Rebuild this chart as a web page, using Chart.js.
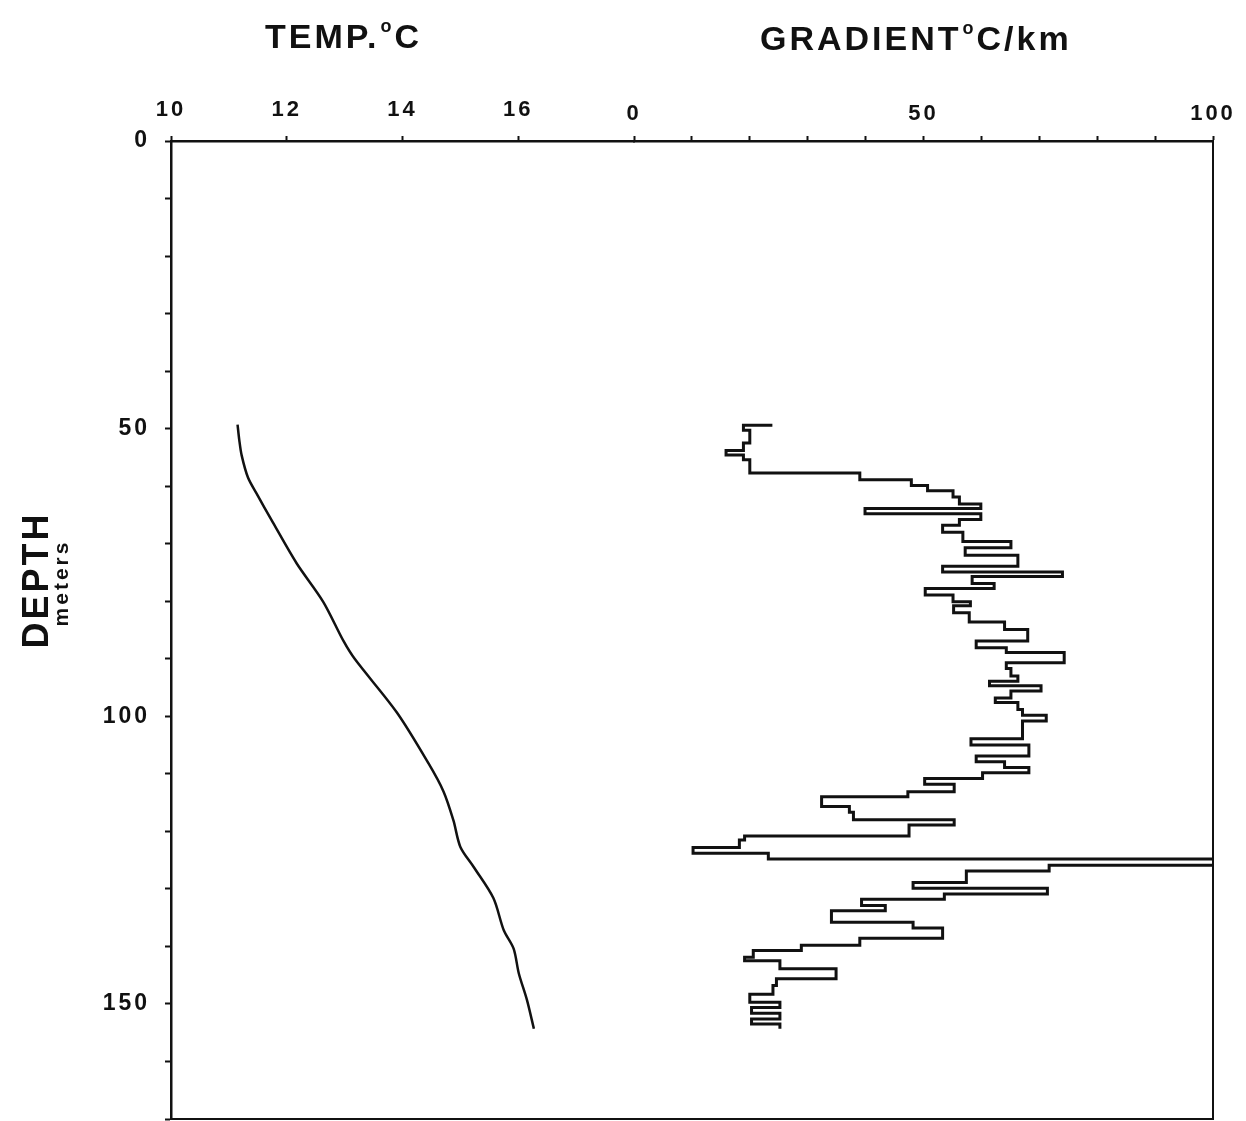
<!DOCTYPE html>
<html>
<head>
<meta charset="utf-8">
<title>Temperature and gradient log</title>
<script src="https://cdn.jsdelivr.net/npm/chart.js@4.4.1/dist/chart.umd.min.js"></script>
<style>
  html, body { margin: 0; padding: 0; background: #fff; }
  #wrap { position: relative; width: 1246px; height: 1121px; }
</style>
</head>
<body>
<div id="wrap"><canvas id="logChart"></canvas></div>
<script>
// Temperature log: depth (m) and temperature (°C)
const tempDepth = [49.3, 52.0, 54.6, 58.5, 61.3, 66.3, 73.4, 80.1, 86.9, 90.1, 99.3, 108.2, 113.1, 118.1, 122.7, 126.2, 131.6, 137.2, 140.4, 144.7, 149.3, 154.3];
const tempValue = [11.15, 11.18, 11.22, 11.33, 11.48, 11.76, 12.17, 12.63, 12.98, 13.18, 13.9, 14.45, 14.71, 14.88, 15.0, 15.23, 15.57, 15.75, 15.92, 16.01, 16.15, 16.27];

// Gradient log: step boundaries (m), one more than the step values (°C/km)
const gradDepth = [49.4, 49.4, 50.3, 52.5, 53.8, 54.6, 55.4, 57.7, 58.9, 59.9, 60.8, 61.9, 63.1, 63.9, 64.8, 65.8, 66.8, 68.0, 69.6, 70.7,
  72.0, 73.9, 74.9, 75.7, 76.9, 77.8, 78.9, 80.1, 80.8, 82.0, 83.6, 84.9, 86.9, 88.1, 88.9, 90.7, 91.7, 93.0, 93.9, 94.7,
  95.6, 96.8, 97.6, 98.8, 99.8, 100.8, 103.9, 105.0, 106.9, 107.9, 108.9, 109.8, 110.8, 111.8, 113.1, 114.0, 115.7, 116.7, 118.0, 118.9,
  120.8, 121.5, 122.8, 123.8, 124.8, 125.9, 126.9, 128.9, 129.9, 130.9, 131.8, 132.9, 133.8, 135.8, 136.8, 138.6, 139.8, 140.7, 141.9, 142.5,
  143.9, 145.6, 146.8, 148.3, 149.7, 150.6, 151.6, 152.6, 153.5, 154.3];
const gradValue = [23.9, 18.9, 20.0, 18.9, 15.9, 18.9, 20.0, 39.0, 47.9, 50.7, 55.1, 56.2, 59.9, 39.9, 59.9, 56.2, 53.3, 56.8, 65.1, 57.2,
  66.3, 53.3, 74.0, 58.4, 62.2, 50.3, 55.1, 58.1, 55.2, 57.9, 64.0, 68.0, 59.1, 64.3, 74.3, 64.3, 65.1, 66.3, 61.4, 70.3,
  65.1, 62.4, 66.3, 67.1, 71.2, 67.1, 58.2, 68.2, 59.1, 64.0, 68.2, 60.2, 50.2, 55.3, 47.3, 32.4, 37.2, 37.9, 55.3, 47.5,
  19.1, 18.2, 10.2, 23.2, 125, 71.7, 57.4, 48.2, 71.4, 53.6, 39.3, 43.4, 34.1, 48.2, 53.3, 39.0, 28.9, 20.6, 19.1, 25.2,
  34.9, 24.6, 24.0, 20.0, 25.2, 20.3, 25.2, 20.3, 25.2];

// Axis ticks
const tempTicks = [10, 12, 14, 16];
const gradTicks = [0, 10, 20, 30, 40, 50, 60, 70, 80, 90, 100];
const gradLabels = [0, 50, 100];
const depthTicks = [0, 10, 20, 30, 40, 50, 60, 70, 80, 90, 100, 110, 120, 130, 140, 150, 160, 170];
const depthLabels = [0, 50, 100, 150];

const ink = '#111111';
const fontFamily = "'Liberation Sans', Arial, Helvetica, sans-serif";

const tempPoints = tempDepth.map((d, i) => ({ x: tempValue[i], y: d }));
// stepped 'after' draws each value down its interval, then across to the next one
const gradPoints = gradValue.map((g, i) => ({ x: g, y: gradDepth[i] }));
gradPoints.push({ x: gradValue[gradValue.length - 1], y: gradDepth[gradDepth.length - 1] });

function drawDegreeTitle(ctx, lead, tail, x, y) {
  ctx.font = 'bold 34px ' + fontFamily;
  ctx.fillText(lead, x, y);
  let cx = x + ctx.measureText(lead).width + 1;
  ctx.font = 'bold 18px ' + fontFamily;
  ctx.fillText('o', cx, y - 16);
  cx += ctx.measureText('o').width;
  ctx.font = 'bold 34px ' + fontFamily;
  ctx.fillText(tail, cx, y);
}

// the old plotter lettering is widely spaced
const spacingPlugin = {
  id: 'spacing',
  beforeUpdate(chart) { chart.ctx.letterSpacing = '3px'; },
  beforeDraw(chart) { chart.ctx.letterSpacing = '3px'; }
};

const titlePlugin = {
  id: 'logTitles',
  afterDraw(chart) {
    const ctx = chart.ctx;
    ctx.save();
    ctx.fillStyle = ink;
    ctx.textAlign = 'left';
    ctx.textBaseline = 'alphabetic';
    drawDegreeTitle(ctx, 'TEMP.', 'C', 265, 48);
    drawDegreeTitle(ctx, 'GRADIENT', 'C/km', 760, 50);

    ctx.textAlign = 'center';
    ctx.save();
    ctx.translate(48, 580);
    ctx.rotate(-Math.PI / 2);
    ctx.font = 'bold 36px ' + fontFamily;
    ctx.fillText('DEPTH', 0, 0);
    ctx.restore();
    ctx.save();
    ctx.translate(68, 583);
    ctx.rotate(-Math.PI / 2);
    ctx.font = 'bold 21px ' + fontFamily;
    ctx.fillText('meters', 0, 0);
    ctx.restore();
    ctx.restore();
  }
};

// right and bottom sides of the plot box
const framePlugin = {
  id: 'frame',
  afterDraw(chart) {
    const { ctx, chartArea: a } = chart;
    ctx.save();
    ctx.strokeStyle = ink;
    ctx.lineWidth = 2;
    ctx.beginPath();
    ctx.moveTo(a.right, a.top);
    ctx.lineTo(a.right, a.bottom);
    ctx.lineTo(a.left, a.bottom);
    ctx.stroke();
    ctx.restore();
  }
};

const tickFont = { family: fontFamily, size: 22, weight: 'bold' };

new Chart(document.getElementById('logChart'), {
  type: 'line',
  data: {
    datasets: [
      {
        label: 'Temperature',
        data: tempPoints,
        xAxisID: 'xTemp',
        yAxisID: 'y',
        borderColor: ink,
        borderWidth: 2.5,
        pointRadius: 0,
        tension: 0.3,
        fill: false
      },
      {
        label: 'Gradient',
        data: gradPoints,
        xAxisID: 'xGrad',
        yAxisID: 'y',
        borderColor: ink,
        borderWidth: 3,
        pointRadius: 0,
        stepped: 'after',
        fill: false
      }
    ]
  },
  options: {
    responsive: true,
    maintainAspectRatio: false,
    animation: false,
    layout: { padding: { left: 0, top: 0, right: 33, bottom: 2 } },
    plugins: {
      legend: { display: false },
      tooltip: { enabled: false }
    },
    scales: {
      // top boxes are laid out in reverse order, so the gradient axis comes first here
      xGrad: {
        type: 'linear',
        position: 'top',
        stack: 'topAxes',
        stackWeight: 579,
        min: 0,
        max: 100,
        afterBuildTicks: (scale) => { scale.ticks = gradTicks.map(v => ({ value: v })); },
        afterFit: (scale) => { scale.height = 141; },
        ticks: {
          color: ink, font: tickFont, padding: 9, autoSkip: false, maxRotation: 0,
          callback: (v) => gradLabels.includes(v) ? String(v) : ''
        },
        grid: { drawOnChartArea: false, drawTicks: true, tickLength: 5, tickColor: ink, tickWidth: 2 },
        border: { display: true, color: ink, width: 2.5 }
      },
      xTemp: {
        type: 'linear',
        position: 'top',
        stack: 'topAxes',
        stackWeight: 463,
        min: 10,
        max: 18,
        afterBuildTicks: (scale) => { scale.ticks = tempTicks.map(v => ({ value: v })); },
        afterFit: (scale) => { scale.height = 141; },
        ticks: { color: ink, font: tickFont, padding: 13, autoSkip: false, maxRotation: 0 },
        grid: { drawOnChartArea: false, drawTicks: true, tickLength: 5, tickColor: ink, tickWidth: 2 },
        border: { display: true, color: ink, width: 2.5 }
      },
      y: {
        type: 'linear',
        position: 'left',
        reverse: true,
        min: 0,
        max: 170,
        afterBuildTicks: (scale) => { scale.ticks = depthTicks.map(v => ({ value: v })); },
        afterFit: (scale) => {
          scale.width = 171;
          scale.paddingTop = 0;
          scale.paddingBottom = 0;
        },
        ticks: {
          color: ink, font: { family: fontFamily, size: 23, weight: 'bold' }, padding: 15, autoSkip: false,
          callback: (v) => depthLabels.includes(v) ? String(v) : ''
        },
        grid: { drawOnChartArea: false, drawTicks: true, tickLength: 6, tickColor: ink, tickWidth: 2 },
        border: { display: true, color: ink, width: 2.5 }
      }
    }
  },
  plugins: [spacingPlugin, titlePlugin, framePlugin]
});
</script>
</body>
</html>
